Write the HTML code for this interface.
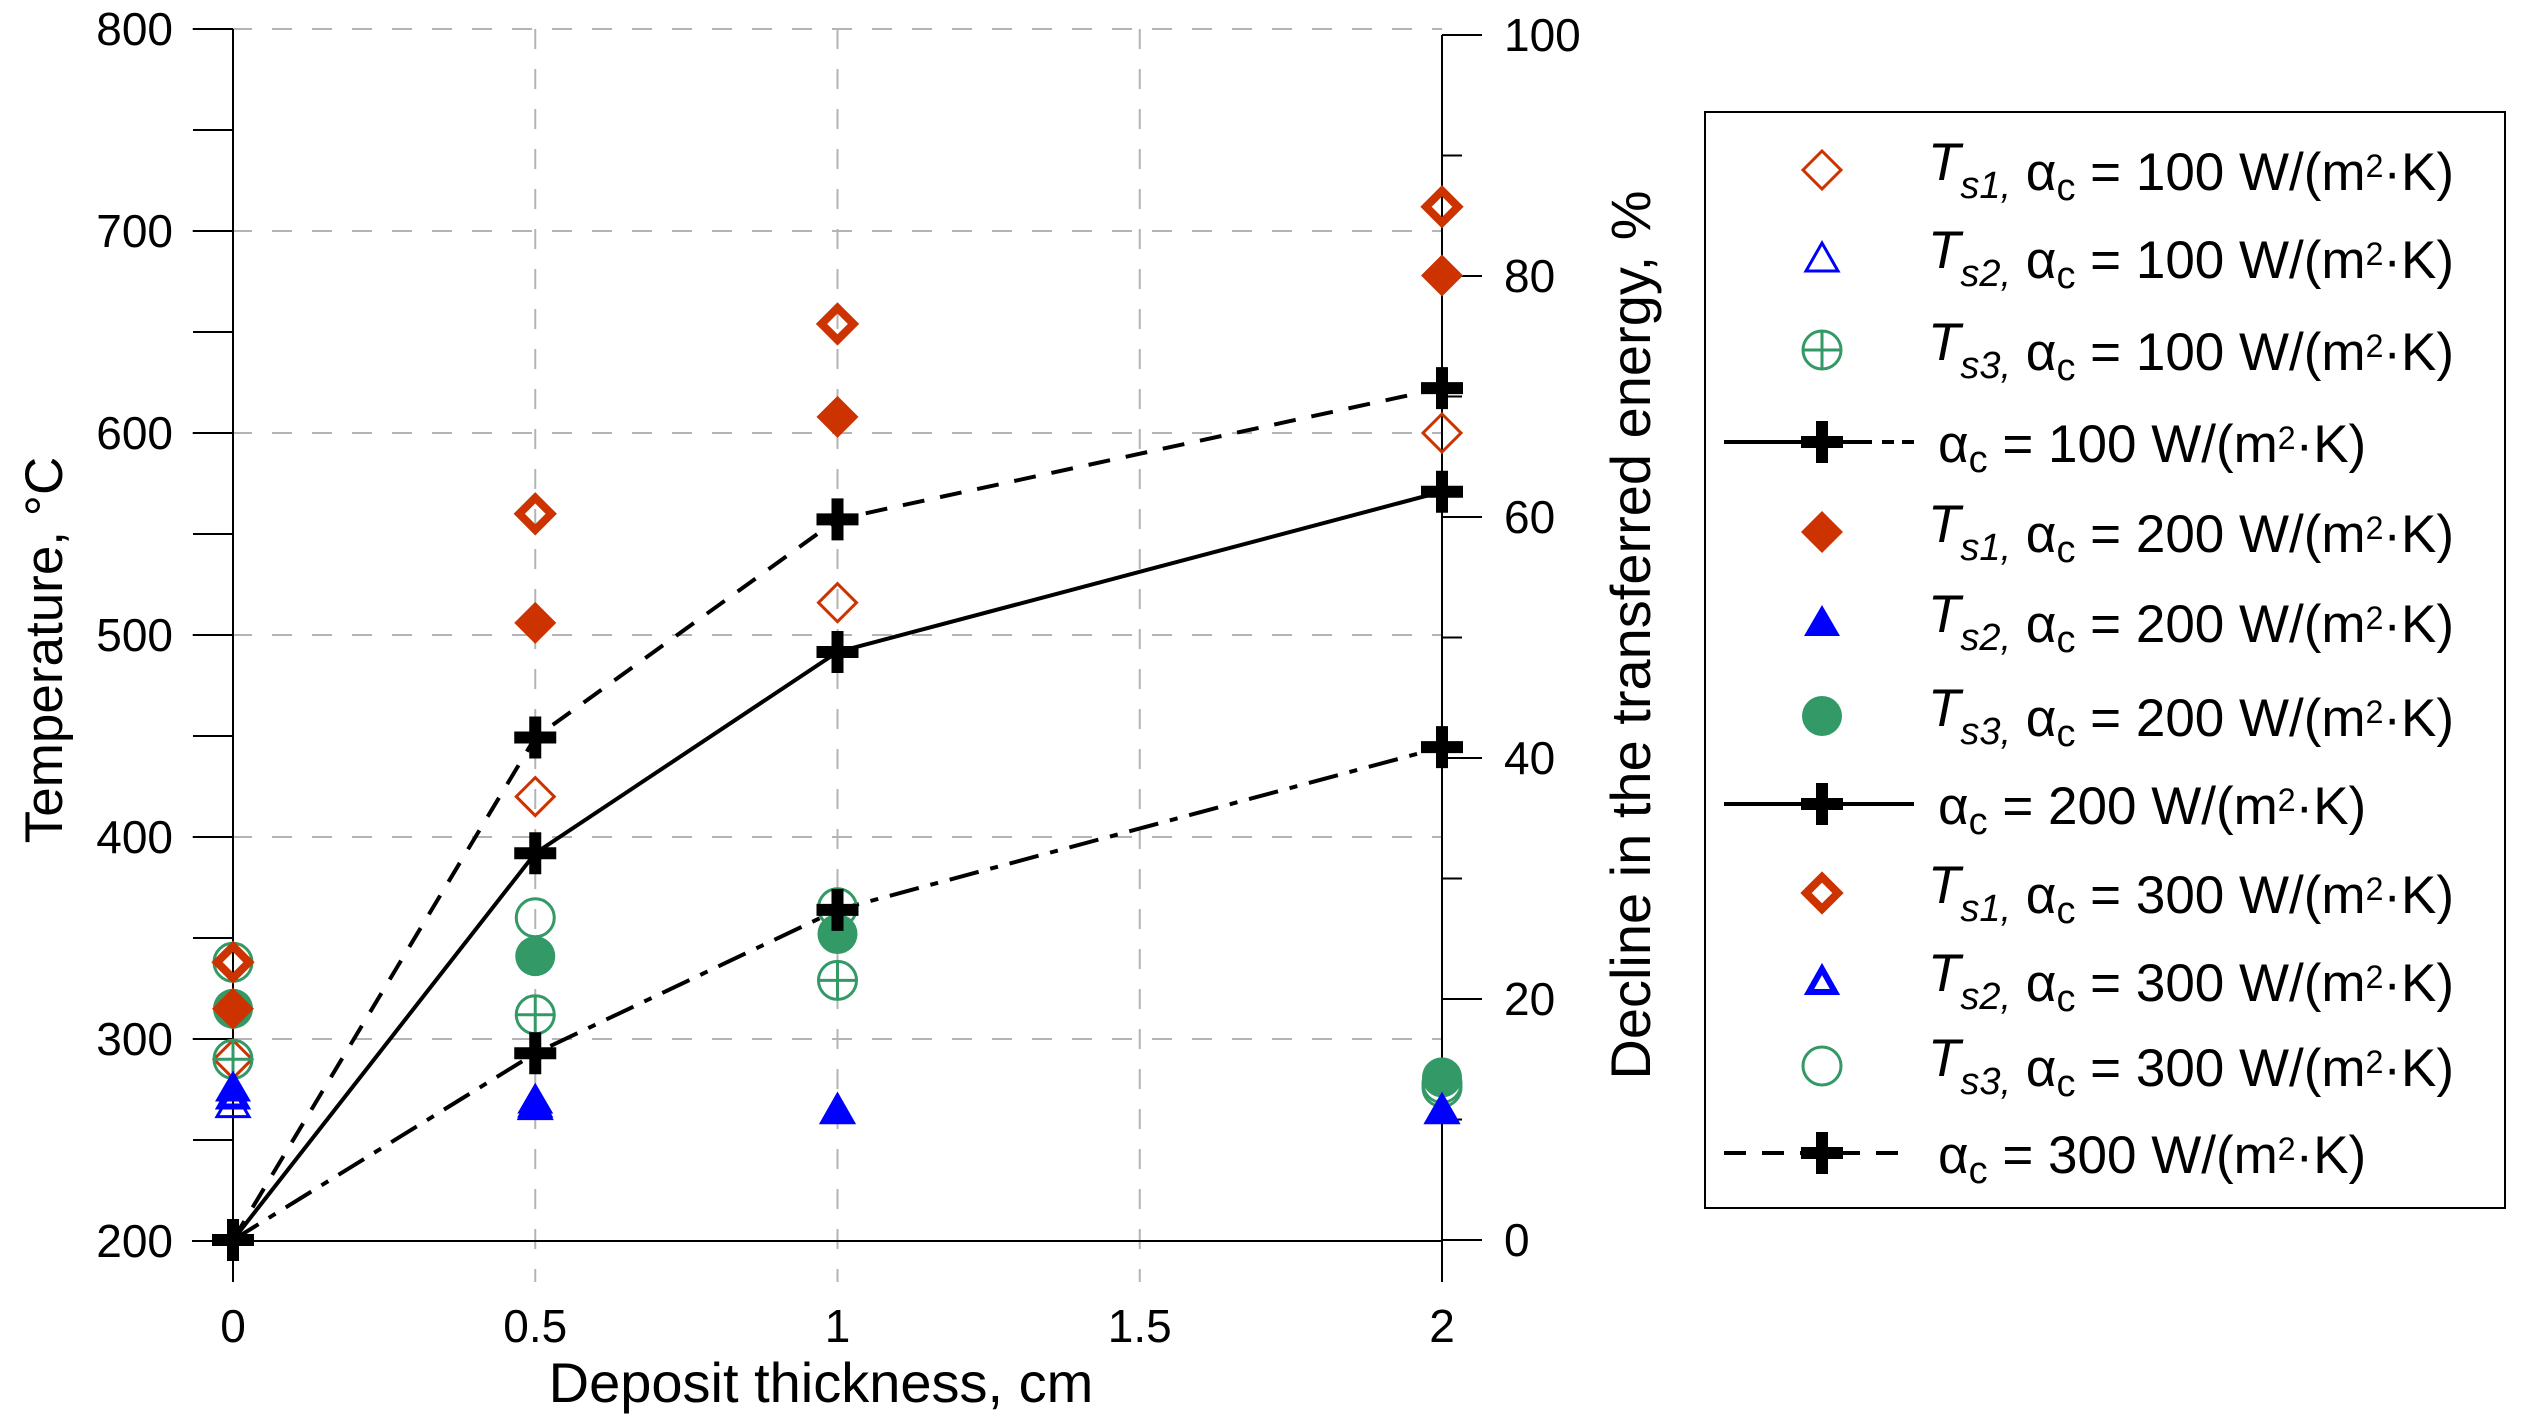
<!DOCTYPE html>
<html><head><meta charset="utf-8"><style>
html,body{margin:0;padding:0;background:#fff;}
svg{display:block;font-family:"Liberation Sans",Arial,sans-serif;}
</style></head><body>
<svg id="chart" width="2521" height="1426" viewBox="0 0 2521 1426" xmlns="http://www.w3.org/2000/svg">
<g id="grid"></g>
<g id="axes"></g>
<g id="lines"></g>
<g id="marks"></g>
<text x="821" y="1402" font-size="56" text-anchor="middle">Deposit thickness, cm</text>
<text transform="translate(62,650) rotate(-90)" font-size="53" text-anchor="middle">Temperature, °C</text>
<text transform="translate(1650,635) rotate(-90)" font-size="56" text-anchor="middle">Decline in the transferred energy, %</text>
<rect x="1705" y="112" width="800" height="1096" fill="#fff" stroke="#000" stroke-width="2"/>
<g id="legend"></g>
</svg>
<script>
// ---- data ----
const xCats = [0, 0.5, 1, 2];
const ts1_100 = [290, 420, 516, 600];
const ts2_100 = [268, 267, 265, 265];
const ts3_100 = [290, 312, 329, 278];
const ts1_200 = [315, 506, 608, 678];
const ts2_200 = [276, 270, 265, 265];
const ts3_200 = [315, 341, 352, 281];
const ts1_300 = [338, 560, 654, 712];
const ts2_300 = [272, 268, 265, 265];
const ts3_300 = [338, 360, 365, 276];
const decline100 = [0, 15.5, 27.4, 40.9];
const decline200 = [0, 32.1, 48.8, 62.1];
const decline300 = [0, 41.7, 59.8, 70.7];
const xTicks = [0, 0.5, 1, 1.5, 2];
const xTickLabels = ["0", "0.5", "1", "1.5", "2"];
const yTicks = [200, 300, 400, 500, 600, 700, 800];
const y2Ticks = [0, 20, 40, 60, 80, 100];

// ---- scales ----
const X = v => 233 + v * 604.5;
const Y = v => 1241 - (v - 200) * 2.02;
const Y2 = p => 1240 - p * 12.05;
const NS = "http://www.w3.org/2000/svg";
function mk(parent, tag, attrs) {
  const e = document.createElementNS(NS, tag);
  for (const k in attrs) e.setAttribute(k, attrs[k]);
  parent.appendChild(e);
  return e;
}
const RED = "#CC3300", BLUE = "#0000FF", GREEN = "#339966";

const grid = document.getElementById('grid');
const axes = document.getElementById('axes');
for (let v = 300; v <= 800; v += 100) {
  const l = mk(grid, 'line', {x1: 192, x2: 1442, y1: Y(v), y2: Y(v), stroke: '#b4b4b4', 'stroke-width': 2, 'stroke-dasharray': '20 20'});
  
  
}
[0.5, 1, 1.5].forEach(v => {
  const l = mk(grid, 'line', {x1: X(v), x2: X(v), y1: 29, y2: 1282, stroke: '#b4b4b4', 'stroke-width': 2, 'stroke-dasharray': '20 20'});
  
  
});
mk(axes, 'line', {x1: 233, x2: 233, y1: 29, y2: 1282, stroke: '#000', 'stroke-width': 2});
mk(axes, 'line', {x1: 192, x2: 1442, y1: 1241, y2: 1241, stroke: '#000', 'stroke-width': 2});
mk(axes, 'line', {x1: 1442, x2: 1442, y1: 35, y2: 1282, stroke: '#000', 'stroke-width': 2});
for (let v = 200; v <= 800; v += 50) {
  mk(axes, 'line', {x1: 193, x2: 233, y1: Y(v), y2: Y(v), stroke: '#000', 'stroke-width': 2});
}
yTicks.forEach(v => {
  const t = mk(axes, 'text', {x: 173, y: Y(v) + 16, 'font-size': 46, 'text-anchor': 'end'});
  t.textContent = v;
  
  
});
for (let p = 0; p <= 100; p += 10) {
  mk(axes, 'line', {x1: 1442, x2: p % 20 === 0 ? 1482 : 1462, y1: Y2(p), y2: Y2(p), stroke: '#000', 'stroke-width': 2});
}
y2Ticks.forEach(p => {
  const t = mk(axes, 'text', {x: 1504, y: Y2(p) + 16, 'font-size': 46});
  t.textContent = p;
  
  
});
xTicks.forEach((v, i) => {
  const t = mk(axes, 'text', {x: X(v), y: 1342, 'font-size': 46, 'text-anchor': 'middle'});
  t.textContent = xTickLabels[i];
  
  
});

function marker(g, type, cx, cy) {
  let e;
  switch (type) {
    case 'dOpen': e = mk(g, 'polygon', {points: `${cx},${cy-19} ${cx+19},${cy} ${cx},${cy+19} ${cx-19},${cy}`, fill: 'none', stroke: RED, 'stroke-width': 3}); break;
    case 'dFill': e = mk(g, 'polygon', {points: `${cx},${cy-21} ${cx+21},${cy} ${cx},${cy+21} ${cx-21},${cy}`, fill: RED}); break;
    case 'dThick': e = mk(g, 'polygon', {points: `${cx},${cy-16} ${cx+16},${cy} ${cx},${cy+16} ${cx-16},${cy}`, fill: 'none', stroke: RED, 'stroke-width': 8}); break;
    case 'tOpen': e = mk(g, 'polygon', {points: `${cx},${cy-15} ${cx+16},${cy+13} ${cx-16},${cy+13}`, fill: 'none', stroke: BLUE, 'stroke-width': 3}); break;
    case 'tFill': e = mk(g, 'polygon', {points: `${cx},${cy-17} ${cx+18},${cy+14} ${cx-18},${cy+14}`, fill: BLUE}); break;
    case 'tThick': e = mk(g, 'polygon', {points: `${cx},${cy-12} ${cx+13},${cy+11} ${cx-13},${cy+11}`, fill: 'none', stroke: BLUE, 'stroke-width': 6}); break;
    case 'cPlus': e = mk(g, 'g', {});
      mk(e, 'circle', {cx, cy, r: 19, fill: 'none', stroke: GREEN, 'stroke-width': 3});
      mk(e, 'path', {d: `M${cx-19},${cy}H${cx+19}M${cx},${cy-19}V${cy+19}`, stroke: GREEN, 'stroke-width': 3}); break;
    case 'cFill': e = mk(g, 'circle', {cx, cy, r: 20, fill: GREEN}); break;
    case 'cOpen': e = mk(g, 'circle', {cx, cy, r: 19, fill: 'none', stroke: GREEN, 'stroke-width': 3}); break;
    case 'plus': e = mk(g, 'path', {d: `M${cx-21},${cy-6}h15v-15h12v15h15v12h-15v15h-12v-15h-15z`, fill: '#000'}); break;
  }
  return e;
}

const lines = document.getElementById('lines');
const marks = document.getElementById('marks');
const pointSeries = [
  ['ts1-100', ts1_100, 'dOpen'], ['ts2-100', ts2_100, 'tOpen'], ['ts3-100', ts3_100, 'cPlus'],
  ['ts3-300', ts3_300, 'cOpen'], ['ts3-200', ts3_200, 'cFill'],
  ['ts1-200', ts1_200, 'dFill'], ['ts2-200', ts2_200, 'tFill'],
  ['ts1-300', ts1_300, 'dThick'], ['ts2-300', ts2_300, 'tThick']
];
const lineSeries = [
  ['decline-100', decline100, '30 12 8 12'],
  ['decline-200', decline200, 'none'],
  ['decline-300', decline300, '22 16']
];
lineSeries.forEach(([name, arr, dash]) => {
  const pts = arr.map((p, i) => `${X(xCats[i])},${Y2(p)}`).join(' ');
  const pl = mk(lines, 'polyline', {points: pts, fill: 'none', stroke: '#000', 'stroke-width': 4, 'stroke-dasharray': dash});
  
  
});
pointSeries.forEach(([name, arr, type]) => {
  arr.forEach((v, i) => {
    const m = marker(marks, type, X(xCats[i]), Y(v));
    
    
  });
});
lineSeries.forEach(([name, arr]) => {
  arr.forEach((p, i) => {
    const m = marker(marks, 'plus', X(xCats[i]), Y2(p));
    
    
  });
});

const legend = document.getElementById('legend');
const legRows = [
  ['dOpen', 's1,', '100'], ['tOpen', 's2,', '100'], ['cPlus', 's3,', '100'], ['L', 'A', '100'],
  ['dFill', 's1,', '200'], ['tFill', 's2,', '200'], ['cFill', 's3,', '200'], ['L', 'none', '200'],
  ['dThick', 's1,', '300'], ['tThick', 's2,', '300'], ['cOpen', 's3,', '300'], ['L', '22 16', '300']
];
const legY = [170, 258, 350, 442, 532, 622, 716, 804, 893, 981, 1066, 1153];
legRows.forEach((r, i) => {
  const y = legY[i];
  const g = mk(legend, 'g', {});
  
  
  const t = mk(g, 'text', {y: y + 20, 'font-size': 53});
  if (r[0] === 'L') {
    if (r[1] === 'A') {
      mk(g, 'line', {x1: 1724, x2: 1872, y1: y, y2: y, stroke: '#000', 'stroke-width': 4});
      mk(g, 'line', {x1: 1882, x2: 1914, y1: y, y2: y, stroke: '#000', 'stroke-width': 4, 'stroke-dasharray': '12 8'});
    } else {
      mk(g, 'line', {x1: 1724, x2: 1914, y1: y, y2: y, stroke: '#000', 'stroke-width': 4, 'stroke-dasharray': r[1]});
    }
    marker(g, 'plus', 1822, y);
    t.setAttribute('x', 1938);
    t.innerHTML = `α<tspan font-size="38" dy="10">c</tspan><tspan dy="-10"> = ${r[2]} W/(m</tspan><tspan font-size="32" dy="-13">2</tspan><tspan dy="13">·K)</tspan>`;
  } else {
    marker(g, r[0], 1822, y);
    t.setAttribute('x', 1928);
    t.innerHTML = `<tspan font-style="italic" dy="-10">T</tspan><tspan font-style="italic" font-size="38" dy="18">${r[1]}</tspan><tspan dy="-8"> α</tspan><tspan font-size="38" dy="10">c</tspan><tspan dy="-10"> = ${r[2]} W/(m</tspan><tspan font-size="32" dy="-13">2</tspan><tspan dy="13">·K)</tspan>`;
  }
});
</script>
</body></html>
